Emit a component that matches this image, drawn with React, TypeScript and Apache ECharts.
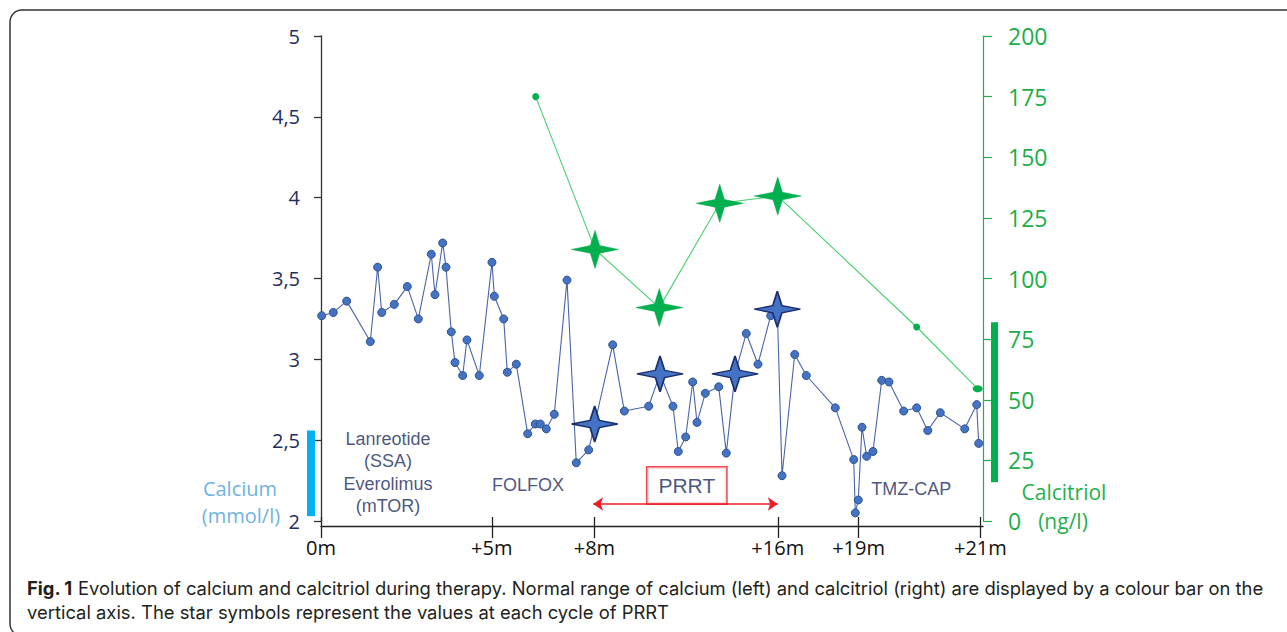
import React, { useEffect, useRef } from 'react';
import * as echarts from 'echarts';

// Timeline position (abstract, non-linear in months) of each measurement
const calciumX = [
  0.1, 1.86, 3.88, 7.45, 8.56, 9.17, 11.07, 13.04, 14.7, 16.66,
  17.22, 18.38, 18.88, 19.68, 20.24, 21.4, 22.05, 23.91, 25.83, 26.18,
  27.6, 28.14, 29.5, 31.22, 32.37, 33.13, 34.03, 35.24, 37.16, 38.56,
  40.44, 41.34, 44.06, 45.82, 49.5, 51.21, 53.17, 53.97, 55.09, 56.15,
  56.8, 58.05, 60.08, 61.22, 62.54, 64.24, 66.01, 67.93, 68.93, 69.64,
  71.56, 73.31, 77.69, 80.47, 80.71, 81.16, 81.72, 82.43, 83.38, 84.7,
  85.8, 88.02, 89.98, 91.65, 93.55, 97.24, 99.05, 99.35,
];
// Calcium (mmol/l)
const calciumY = [
  3.27, 3.29, 3.36, 3.11, 3.57, 3.29, 3.34, 3.45, 3.25, 3.65,
  3.4, 3.72, 3.57, 3.17, 2.98, 2.9, 3.12, 2.9, 3.6, 3.39,
  3.25, 2.92, 2.97, 2.54, 2.6, 2.6, 2.57, 2.66, 3.49, 2.36,
  2.44, 2.6, 3.09, 2.68, 2.71, 2.91, 2.71, 2.43, 2.52, 2.86,
  2.61, 2.79, 2.83, 2.42, 2.91, 3.16, 2.97, 3.27, 3.31, 2.28,
  3.03, 2.9, 2.7, 2.38, 2.05, 2.13, 2.58, 2.4, 2.43, 2.87,
  2.86, 2.68, 2.7, 2.56, 2.67, 2.57, 2.72, 2.48,
];
// indices of calcium values measured at each PRRT cycle (stars)
const calciumStarIdx = [31, 35, 44, 48];

// Calcitriol (ng/l)
const calcitriolX = [32.43, 41.39, 51.1, 60.23, 68.99, 89.98, 99.2];
const calcitriolY = [175, 112, 88, 131, 134, 80, 54.5];
const calcitriolStarIdx = [1, 2, 3, 4];

// Normal ranges
const calciumNormal = [2.03, 2.56];
const calcitriolNormal = [16, 82];

// x-axis ticks
const xTickPos = [0, 25.8, 41.3, 69.0, 81.2, 99.6];
const xTickLabels = ['0m', '+5m', '+8m', '+16m', '+19m', '+21m'];

// Left / right axis ticks
const calciumTicks = { min: 2, max: 5, interval: 0.5 };
const calcitriolTicks = { min: 0, max: 200, interval: 25 };

// Therapy annotations
const annotationTexts = ['Lanreotide\n(SSA)\nEverolimus\n(mTOR)', 'FOLFOX', 'TMZ-CAP', 'PRRT'];
const annotationX = [10.12, 31.27, 89.17, 55.26];
const annotationY = [2.3, 2.225, 2.198, 2.22];
const prrtSpan = [41.1, 69.0];
const prrtArrowY = 2.105;

const STAR = 'path://M50,0 L60,40 L100,50 L60,60 L50,100 L40,60 L0,50 L40,40 Z';
const FONT = '"Open Sans", "Noto Sans", sans-serif';
const ARIAL = '"Liberation Sans", Arial, sans-serif';
const CAPTION_FONT = 'Inter, "Open Sans", sans-serif';

export default function App() {
  const ref = useRef<HTMLDivElement>(null);
  useEffect(() => {
    const chart = echarts.init(ref.current as HTMLDivElement, null, { renderer: 'svg' });

    const calciumData = calciumX.map((x, i) =>
      calciumStarIdx.includes(i)
        ? {
            value: [x, calciumY[i]],
            symbol: STAR,
            symbolSize: [46, 36],
            itemStyle: { color: '#4472c4', borderColor: '#1c2d6e', borderWidth: 1.5 },
          }
        : { value: [x, calciumY[i]] }
    );
    const calcitriolData = calcitriolX.map((x, i) => {
      if (calcitriolStarIdx.includes(i)) {
        return {
          value: [x, calcitriolY[i]],
          symbol: STAR,
          symbolSize: [47, 38],
          itemStyle: { color: '#00b04f', borderColor: '#00a84a', borderWidth: 0.5 },
        };
      }
      if (i === calcitriolX.length - 1) {
        return { value: [x, calcitriolY[i]], symbolSize: [10, 7] };
      }
      return { value: [x, calcitriolY[i]] };
    });

    const fmtTick = (v: number) => {
      const i = xTickPos.findIndex((p) => Math.abs(p - v) < 1e-6);
      return i >= 0 ? xTickLabels[i] : '';
    };

    const option: any = {
      animation: false,
      backgroundColor: '#ffffff',
      grid: { left: 321, right: 304, top: 36, bottom: 111, containLabel: false, outerBoundsMode: 'none' },
      xAxis: [
        {
          type: 'value',
          min: 0,
          max: 100,
          position: 'bottom',
          offset: 5,
          axisLine: { show: true, onZero: false, lineStyle: { color: '#222', width: 1.3 } },
          axisTick: { show: true, customValues: xTickPos, length: 12, lineStyle: { color: '#222', width: 1.3 } },
          axisLabel: {
            customValues: xTickPos,
            formatter: fmtTick,
            fontSize: 20,
            color: '#111',
            margin: 11,
            fontFamily: FONT,
          },
          splitLine: { show: false },
        },
        {
          type: 'value',
          min: 0,
          max: 100,
          position: 'bottom',
          offset: 5,
          axisLine: { show: false, onZero: false },
          axisTick: { show: true, inside: true, customValues: xTickPos, length: 9, lineStyle: { color: '#222', width: 1.3 } },
          axisLabel: { show: false },
          splitLine: { show: false },
        },
      ],
      yAxis: [
        {
          type: 'value',
          min: calciumTicks.min,
          max: calciumTicks.max,
          interval: calciumTicks.interval,
          position: 'left',
          axisLine: { show: true, onZero: false, lineStyle: { color: '#333', width: 1.3 } },
          axisTick: { show: true, length: 7, lineStyle: { color: '#333', width: 1.3 } },
          axisLabel: {
            formatter: (v: number) => String(v).replace('.', ','),
            fontSize: 20,
            color: '#1f2d5f',
            margin: 21,
            fontFamily: FONT,
          },
          splitLine: { show: false },
        },
        {
          type: 'value',
          min: calcitriolTicks.min,
          max: calcitriolTicks.max,
          interval: calcitriolTicks.interval,
          position: 'right',
          axisLine: { show: true, onZero: false, lineStyle: { color: '#22b24c', width: 1.2 } },
          axisTick: { show: true, length: 9, lineStyle: { color: '#22b24c', width: 1.2 } },
          axisLabel: { fontSize: 23, color: '#1aae4a', margin: 25, fontFamily: FONT },
          splitLine: { show: false },
        },
      ],
      series: [
        {
          name: 'Calcium',
          type: 'line',
          xAxisIndex: 0,
          yAxisIndex: 0,
          data: calciumData,
          symbol: 'circle',
          symbolSize: 8,
          showAllSymbol: true,
          itemStyle: { color: '#4472c4', borderColor: '#2f528f', borderWidth: 1 },
          lineStyle: { color: '#4a64aa', width: 1.1 },
          z: 3,
        },
        {
          name: 'Calcitriol',
          type: 'line',
          xAxisIndex: 0,
          yAxisIndex: 1,
          data: calcitriolData,
          symbol: 'circle',
          symbolSize: 7,
          showAllSymbol: true,
          itemStyle: { color: '#00b04f' },
          lineStyle: { color: '#46cf6e', width: 1.1 },
          z: 4,
        },
        {
          name: 'Calcium normal range',
          type: 'custom',
          xAxisIndex: 0,
          yAxisIndex: 0,
          clip: false,
          data: [[0, calciumNormal[0], calciumNormal[1]]],
          renderItem: (params: any, api: any) => {
            const lo = api.coord([api.value(0), api.value(1)]);
            const hi = api.coord([api.value(0), api.value(2)]);
            return {
              type: 'rect',
              shape: { x: lo[0] - 14, y: hi[1], width: 8, height: lo[1] - hi[1] },
              style: { fill: '#00b0f0' },
            };
          },
        },
        {
          name: 'Calcitriol normal range',
          type: 'custom',
          xAxisIndex: 0,
          yAxisIndex: 1,
          clip: false,
          data: [[100, calcitriolNormal[0], calcitriolNormal[1]]],
          renderItem: (params: any, api: any) => {
            const lo = api.coord([api.value(0), api.value(1)]);
            const hi = api.coord([api.value(0), api.value(2)]);
            return {
              type: 'rect',
              shape: { x: lo[0] + 8, y: hi[1], width: 7, height: lo[1] - hi[1] },
              style: { fill: '#00b04f' },
            };
          },
        },
        {
          name: 'Therapies',
          type: 'scatter',
          xAxisIndex: 0,
          yAxisIndex: 0,
          symbolSize: 1,
          itemStyle: { color: 'rgba(0,0,0,0)' },
          silent: true,
          z: 2,
          data: annotationTexts.map((t, i) => {
            const isPrrt = t === 'PRRT';
            return {
              value: [annotationX[i], annotationY[i]],
              label: {
                show: true,
                position: 'inside',
                formatter: t,
                fontFamily: ARIAL,
                fontSize: isPrrt ? 21 : 18,
                lineHeight: isPrrt ? 26 : 22.4,
                color: '#1a2a60',
                align: 'center',
                verticalAlign: 'middle',
                ...(isPrrt
                  ? { borderColor: '#ee1c25', borderWidth: 1.5, padding: [5, 11, 5, 11], backgroundColor: '#ffffff' }
                  : {}),
              },
            };
          }),
          markLine: {
            silent: true,
            symbol: ['arrow', 'arrow'],
            symbolSize: 10,
            label: { show: false },
            lineStyle: { color: '#ee1c25', width: 1.5, type: 'solid' },
            data: [[{ coord: [prrtSpan[0], prrtArrowY] }, { coord: [prrtSpan[1], prrtArrowY] }]],
          },
        },
      ],
      graphic: [
        {
          type: 'rect',
          shape: { x: 10, y: 10, width: 1290, height: 626, r: 12 },
          style: { fill: 'none', stroke: '#333', lineWidth: 1.5 },
          silent: true,
        },
        {
          type: 'text',
          style: { text: 'Calcium', x: 240, y: 488, align: 'center', verticalAlign: 'middle', fontSize: 20, fontFamily: FONT, fill: '#6fb3e4' },
        },
        {
          type: 'text',
          style: { text: '(mmol/l)', x: 241, y: 515, align: 'center', verticalAlign: 'middle', fontSize: 20, fontFamily: FONT, fill: '#6fb3e4' },
        },
        {
          type: 'text',
          style: { text: 'Calcitriol', x: 1064, y: 492, align: 'center', verticalAlign: 'middle', fontSize: 21, fontFamily: FONT, fill: '#1fb04c' },
        },
        {
          type: 'text',
          style: { text: '(ng/l)', x: 1063, y: 521, align: 'center', verticalAlign: 'middle', fontSize: 21, fontFamily: FONT, fill: '#1fb04c' },
        },
        {
          type: 'text',
          style: {
            text: '{b|Fig. 1} Evolution of calcium and calcitriol during therapy. Normal range of calcium (left) and calcitriol (right) are displayed by a colour bar on the',
            x: 27,
            y: 588,
            verticalAlign: 'middle',
            fontSize: 18.4,
            fontFamily: CAPTION_FONT,
            fill: '#231f20',
            rich: { b: { fontWeight: 'bold', fontSize: 18.4, fontFamily: CAPTION_FONT, fill: '#231f20' } },
          },
        },
        {
          type: 'text',
          style: {
            text: 'vertical axis. The star symbols represent the values at each cycle of PRRT',
            x: 27,
            y: 611.5,
            verticalAlign: 'middle',
            fontSize: 18.4,
            fontFamily: CAPTION_FONT,
            fill: '#231f20',
          },
        },
      ],
    };

    chart.setOption(option);
    return () => chart.dispose();
  }, []);

  return (
    <div
      ref={ref}
      style={{ position: 'fixed', left: 0, top: 0, width: 1287, height: 632, background: '#fff' }}
    />
  );
}
